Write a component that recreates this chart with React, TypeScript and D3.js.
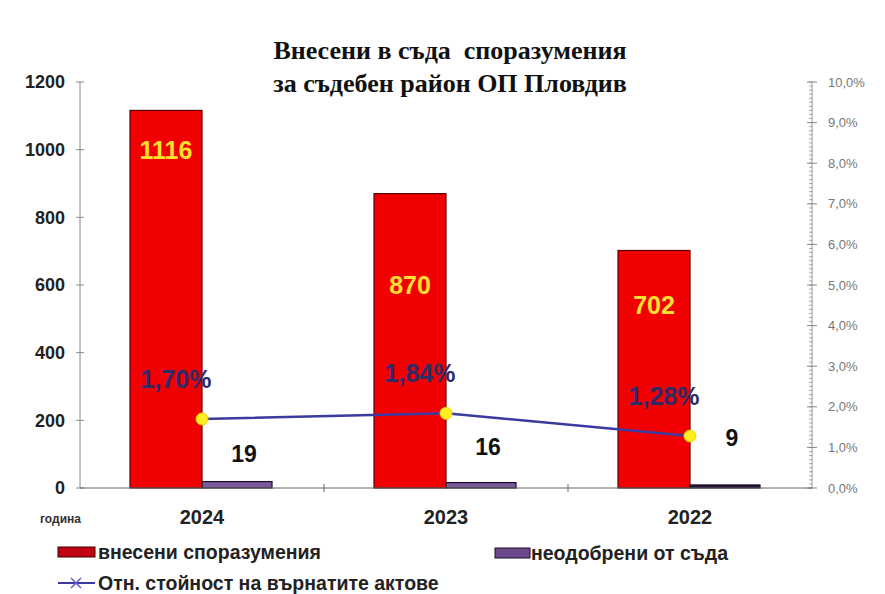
import React from "react";
import * as d3 from "d3";

// chart data
const years = ["2024", "2023", "2022"];
const filed = [1116, 870, 702]; // внесени споразумения
const rejected = [19, 16, 9]; // неодобрени от съда
const returnedShare = [0.017, 0.0184, 0.0128]; // Отн. стойност на върнатите актове
const shareLabels = ["1,70%", "1,84%", "1,28%"];
// where the value labels sit, in left-axis units
const filedLabelAt = [1000, 600, 540];
const rejectedLabelAt = [100, 122, 148];

const leftTicks = [0, 200, 400, 600, 800, 1000, 1200];
const rightTicks = d3.range(0, 11).map((d) => d / 100);
const rightMinor = d3.range(0, 101).map((d) => d / 1000);

const W = 885;
const H = 594;
const plot = { left: 80, right: 812, top: 82, bottom: 488 };
const sans = "'Liberation Sans', Arial, sans-serif";
const serif = "'Liberation Serif', 'Times New Roman', serif";

const App: React.FC = () => {
  const x = d3.scaleBand<string>().domain(years).range([plot.left, plot.right]).paddingInner(0);
  const y = d3.scaleLinear().domain([0, 1200]).range([plot.bottom, plot.top]);
  const y2 = d3.scaleLinear().domain([0, 0.1]).range([plot.bottom, plot.top]);
  const barW = 72;
  const cx = (yr: string) => (x(yr) as number) + x.bandwidth() / 2;

  const line = d3
    .line<number>()
    .x((_, i) => cx(years[i]))
    .y((d) => y2(d));

  const fmtPct = (d: number) => d3.format(".1f")(d * 100).replace(".", ",") + "%";

  return (
    <svg
      width={W}
      height={H}
      style={{ position: "absolute", left: 0, top: 0, background: "#fff" }}
    >
      {/* title */}
      <text
        x={450}
        y={59}
        textAnchor="middle"
        fontFamily={serif}
        fontWeight="bold"
        fontSize={26}
        fill="#111"
        style={{ whiteSpace: "pre" }}
      >
        Внесени в съда  споразумения
      </text>
      <text
        x={450}
        y={92}
        textAnchor="middle"
        fontFamily={serif}
        fontWeight="bold"
        fontSize={26}
        fill="#111"
      >
        за съдебен район ОП Пловдив
      </text>

      {/* left axis */}
      <line x1={plot.left} x2={plot.left} y1={y(1200)} y2={y(0)} stroke="#888" />
      {leftTicks.map((t) => (
        <g key={t}>
          <line x1={plot.left - 4} x2={plot.left + 4} y1={y(t)} y2={y(t)} stroke="#888" />
          <text
            x={65}
            y={y(t)}
            dy="0.36em"
            textAnchor="end"
            fontFamily={sans}
            fontWeight="bold"
            fontSize={18}
            fill="#222"
          >
            {t}
          </text>
        </g>
      ))}

      {/* right axis */}
      <line x1={plot.right} x2={plot.right} y1={y2(0.1)} y2={y2(0)} stroke="#999" />
      {rightMinor.map((t, i) => (
        <line key={i} x1={plot.right - 3} x2={plot.right + 1} y1={y2(t)} y2={y2(t)} stroke="#aab" />
      ))}
      {rightTicks.map((t) => (
        <g key={t}>
          <line x1={plot.right - 5} x2={plot.right + 5} y1={y2(t)} y2={y2(t)} stroke="#888" />
          <text
            x={828}
            y={y2(t)}
            dy="0.36em"
            fontFamily={sans}
            fontSize={13}
            fill="#777"
          >
            {fmtPct(t)}
          </text>
        </g>
      ))}

      {/* bars */}
      {years.map((yr, i) => (
        <g key={yr}>
          <rect
            x={cx(yr) - barW}
            y={y(filed[i])}
            width={barW}
            height={y(0) - y(filed[i])}
            fill="#f00000"
            stroke="#5a0000"
            strokeWidth={1.2}
          />
          <rect
            x={cx(yr)}
            y={y(rejected[i])}
            width={barW - 2}
            height={y(0) - y(rejected[i])}
            fill={i === 2 ? "#2a1a3a" : "#7a5a9a"}
            stroke="#1a0a2a"
            strokeWidth={1.2}
          />
        </g>
      ))}

      {/* x axis */}
      <line x1={plot.left} x2={plot.right} y1={y(0)} y2={y(0)} stroke="#666" />
      {years.slice(1).map((yr) => (
        <line key={yr} x1={x(yr) as number} x2={x(yr) as number} y1={y(0) - 4} y2={y(0) + 4} stroke="#666" />
      ))}
      {years.map((yr) => (
        <text
          key={yr}
          x={cx(yr)}
          y={524}
          textAnchor="middle"
          fontFamily={sans}
          fontWeight="bold"
          fontSize={20}
          fill="#222"
        >
          {yr}
        </text>
      ))}
      <text x={40} y={523} fontFamily={sans} fontWeight="bold" fontSize={12} fill="#333">
        година
      </text>

      {/* share line */}
      <path d={line(returnedShare) || ""} fill="none" stroke="#3a3aa0" strokeWidth={2.5} />
      {returnedShare.map((v, i) => (
        <circle key={i} cx={cx(years[i])} cy={y2(v)} r={6} fill="#ffee22" stroke="#f0d000" />
      ))}

      {/* labels */}
      {years.map((yr, i) => (
        <g key={yr}>
          <text
            x={cx(yr) - barW / 2}
            y={y(filedLabelAt[i])}
            dy="0.36em"
            textAnchor="middle"
            fontFamily={sans}
            fontWeight="bold"
            fontSize={25}
            fill="#ffe030"
          >
            {filed[i]}
          </text>
          <text
            x={cx(yr) + 42}
            y={y(rejectedLabelAt[i])}
            dy="0.36em"
            textAnchor="middle"
            fontFamily={sans}
            fontWeight="bold"
            fontSize={23}
            fill="#111"
          >
            {rejected[i]}
          </text>
          <text
            x={cx(yr) - 26}
            y={y2(returnedShare[i]) - 40}
            dy="0.36em"
            textAnchor="middle"
            fontFamily={sans}
            fontWeight="bold"
            fontSize={25}
            fill="#2c2c6a"
          >
            {shareLabels[i]}
          </text>
        </g>
      ))}

      {/* legend */}
      <rect x={58} y={547} width={37} height={10} fill="#c00010" stroke="#400" />
      <text x={98} y={559} fontFamily={sans} fontWeight="bold" fontSize={19.5} fill="#222">
        внесени споразумения
      </text>
      <rect x={495} y={548} width={35} height={10} fill="#6a4a8a" stroke="#1a0a2a" />
      <text x={531} y={560} fontFamily={sans} fontWeight="bold" fontSize={19.5} fill="#222">
        неодобрени от съда
      </text>
      <line x1={58} x2={95} y1={583} y2={583} stroke="#3a3aa0" strokeWidth={2} />
      <path d="M71,578 L81,588 M71,588 L81,578" stroke="#6a5acd" strokeWidth={1.5} />
      <text x={98} y={590} fontFamily={sans} fontWeight="bold" fontSize={19.5} fill="#222">
        Отн. стойност на върнатите актове
      </text>
    </svg>
  );
};

export default App;
